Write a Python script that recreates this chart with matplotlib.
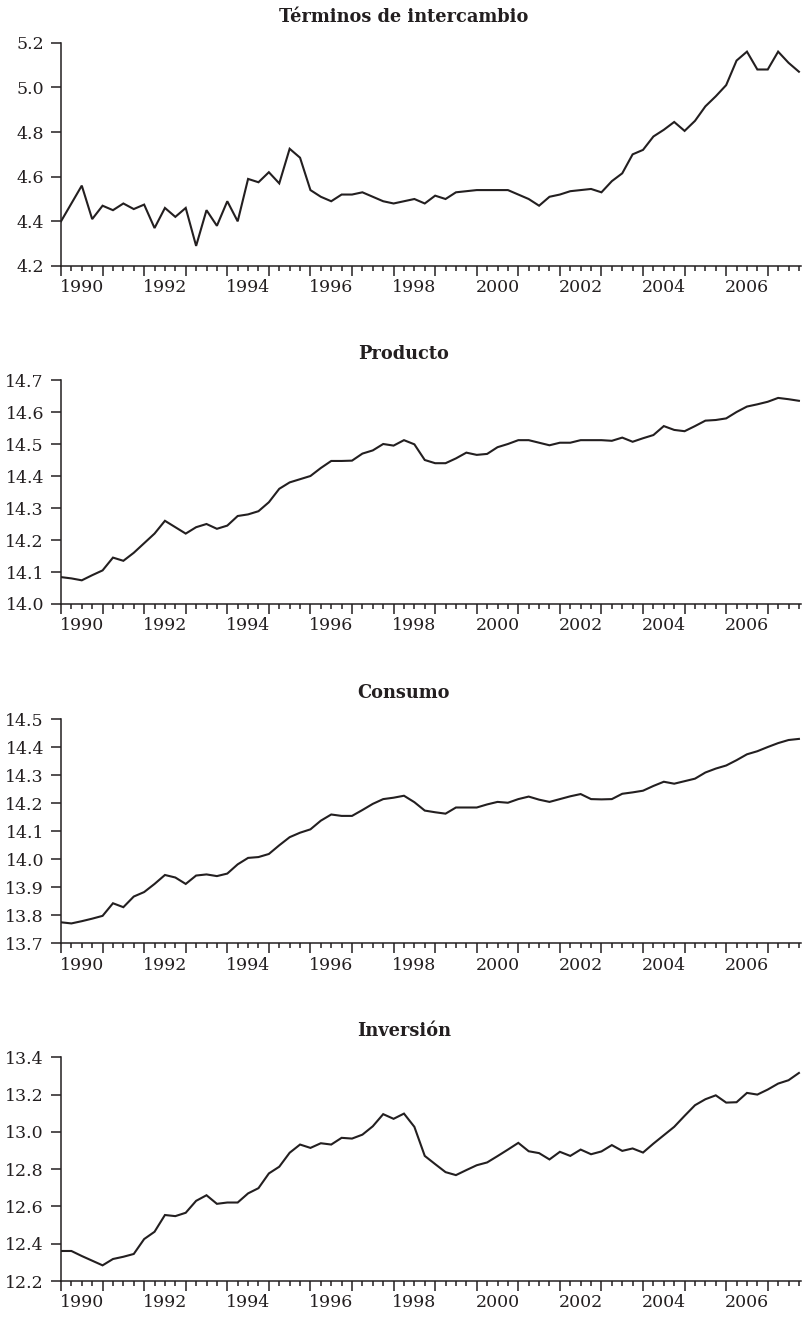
import numpy as np
import matplotlib.pyplot as plt
from matplotlib.ticker import FixedLocator, FixedFormatter, FormatStrFormatter

plt.rcParams['font.family'] = 'DejaVu Serif'

INK = '#231f20'

# Trimestres 1990T1 - 2007T4 (logaritmos)
quarters = 1990 + np.arange(72) / 4

terminos = [4.40, 4.48, 4.56, 4.41, 4.47, 4.45, 4.48, 4.455, 4.475, 4.37,
            4.46, 4.42, 4.46, 4.29, 4.45, 4.38, 4.49, 4.40, 4.59, 4.575,
            4.62, 4.57, 4.725, 4.685, 4.54, 4.51, 4.49, 4.52, 4.52, 4.53,
            4.51, 4.49, 4.48, 4.49, 4.50, 4.48, 4.515, 4.50, 4.53, 4.535,
            4.54, 4.54, 4.54, 4.54, 4.52, 4.50, 4.47, 4.51, 4.52, 4.535,
            4.54, 4.545, 4.53, 4.58, 4.615, 4.70, 4.72, 4.78, 4.81, 4.845,
            4.805, 4.85, 4.915, 4.96, 5.01, 5.12, 5.16, 5.08, 5.08, 5.16,
            5.11, 5.07]

producto = [14.084, 14.08, 14.074, 14.09, 14.105, 14.145, 14.135, 14.16, 14.19, 14.22,
            14.26, 14.24, 14.22, 14.24, 14.25, 14.235, 14.245, 14.275, 14.28, 14.29,
            14.318, 14.36, 14.38, 14.39, 14.40, 14.425, 14.447, 14.447, 14.448, 14.47,
            14.48, 14.50, 14.495, 14.512, 14.499, 14.45, 14.44, 14.44, 14.455, 14.473,
            14.466, 14.469, 14.49, 14.50, 14.512, 14.512, 14.504, 14.496, 14.504, 14.504,
            14.512, 14.512, 14.512, 14.51, 14.52, 14.507, 14.518, 14.528, 14.556, 14.544,
            14.54, 14.556, 14.573, 14.575, 14.58, 14.60, 14.617, 14.624, 14.632, 14.644,
            14.64, 14.635]

consumo = [13.775, 13.771, 13.779, 13.788, 13.798, 13.843, 13.829, 13.867, 13.883, 13.912,
           13.944, 13.935, 13.912, 13.942, 13.946, 13.94, 13.949, 13.982, 14.005, 14.008,
           14.019, 14.05, 14.079, 14.095, 14.107, 14.138, 14.16, 14.155, 14.155, 14.176,
           14.198, 14.215, 14.22, 14.227, 14.204, 14.174, 14.168, 14.163, 14.185, 14.185,
           14.185, 14.196, 14.205, 14.202, 14.215, 14.224, 14.213, 14.205, 14.215, 14.225,
           14.233, 14.215, 14.214, 14.215, 14.234, 14.239, 14.245, 14.262, 14.277, 14.27,
           14.279, 14.288, 14.31, 14.324, 14.335, 14.354, 14.375, 14.386, 14.401, 14.415,
           14.426, 14.43]

inversion = [12.361, 12.361, 12.334, 12.309, 12.284, 12.318, 12.33, 12.345, 12.425, 12.464,
             12.554, 12.548, 12.566, 12.63, 12.66, 12.614, 12.621, 12.621, 12.67, 12.698,
             12.777, 12.813, 12.888, 12.932, 12.914, 12.939, 12.932, 12.968, 12.964, 12.985,
             13.03, 13.095, 13.07, 13.098, 13.027, 12.871, 12.827, 12.784, 12.768, 12.795,
             12.821, 12.836, 12.87, 12.905, 12.941, 12.896, 12.886, 12.852, 12.893, 12.871,
             12.905, 12.88, 12.895, 12.929, 12.898, 12.911, 12.889, 12.937, 12.982, 13.027,
             13.086, 13.143, 13.175, 13.196, 13.157, 13.159, 13.209, 13.2, 13.227, 13.259,
             13.277, 13.316]

titles = ['Términos de intercambio', 'Producto', 'Consumo', 'Inversión']
series = [terminos, producto, consumo, inversion]
y_ticks = [np.arange(4.2, 5.21, 0.2), np.arange(14.0, 14.71, 0.1),
           np.arange(13.7, 14.51, 0.1), np.arange(12.2, 13.41, 0.2)]
year_labels = [str(y) for y in range(1990, 2007, 2)]

# años enteros = marca larga, trimestres = marca corta
years = np.arange(1990, 2008)
minor_pos = [y + q / 4 for y in years for q in (1, 2, 3)]
minor_lab = []
for p in minor_pos:
    yr = int(p)
    lab = str(yr) if (p - yr == 0.5 and str(yr) in year_labels) else ''
    minor_lab.append(lab)

fig = plt.figure(figsize=(8.04, 13.17), dpi=100)
W, H = 804, 1317
panels = [(42.7, 266), (380, 604), (719.3, 943.3), (1057.3, 1281)]

for (top, bottom), title, vals, yt in zip(panels, titles, series, y_ticks):
    ax = fig.add_axes([61 / W, 1 - bottom / H, 740 / W, (bottom - top) / H])
    ax.plot(quarters, vals, color=INK, lw=1.5, solid_joinstyle='miter')
    ax.set_xlim(1990, 2007.8)
    ax.set_ylim(yt[0], yt[-1])
    ax.set_yticks(yt)
    ax.yaxis.set_major_formatter(FormatStrFormatter('%.1f'))

    ax.xaxis.set_major_locator(FixedLocator(years))
    ax.xaxis.set_major_formatter(FixedFormatter([''] * len(years)))
    ax.xaxis.set_minor_locator(FixedLocator(minor_pos))
    ax.xaxis.set_minor_formatter(FixedFormatter(minor_lab))

    for s in ('top', 'right'):
        ax.spines[s].set_visible(False)
    for s in ('left', 'bottom'):
        ax.spines[s].set_linewidth(1.1)
        ax.spines[s].set_color(INK)

    ax.tick_params(axis='y', direction='out', length=7.2, width=1.1,
                   color=INK, labelcolor=INK, labelsize=12.5, pad=5)
    ax.tick_params(axis='x', which='major', direction='out', length=7.2,
                   width=1.1, color=INK)
    ax.tick_params(axis='x', which='minor', direction='out', length=3.6,
                   width=1.1, color=INK, labelcolor=INK, labelsize=12.5, pad=6)

    fig.text(404 / W, 1 - (top - 26) / H, title, ha='center', va='center',
             fontsize=12.8, fontweight='bold', color=INK)

fig.savefig('out.png', dpi=100, facecolor='white')
